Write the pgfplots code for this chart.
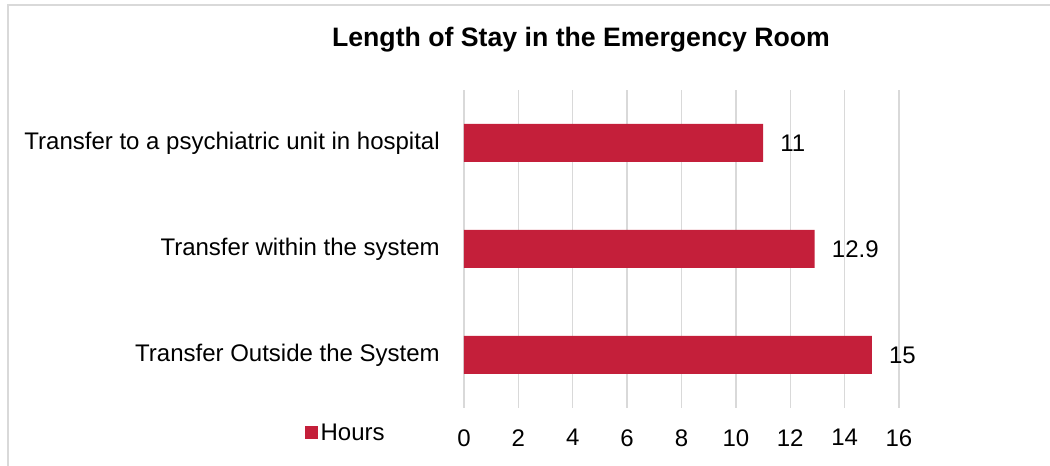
\documentclass[border=0pt]{standalone}
\usepackage{pgfplots}
\pgfplotsset{compat=1.18}
\usepackage{fontspec}
\setmainfont{Liberation Sans}
\definecolor{barred}{RGB}{196,31,58}
\definecolor{gridgray}{RGB}{217,217,217}
\begin{document}
\begin{tikzpicture}[x=0.75pt,y=0.75pt]
\useasboundingbox (0,0) rectangle (1050,466);
\draw[gridgray, line width=1.5pt] (8,0) -- (8,461) -- (1050,461);
\node[font=\fontsize{20}{24}\selectfont\bfseries] at (581,426) {Length of Stay in the Emergency Room};
\begin{axis}[
  at={(348pt,43.5pt)}, anchor=south west, scale only axis,
  width=326.25pt, height=238.5pt,
  xbar, bar width=28.5pt,
  xmin=0, xmax=16, ymin=-0.5, ymax=2.5,
  xtick={0,2,...,16}, ytick={0,1,2},
  yticklabels={Transfer Outside the System, Transfer within the system, Transfer to a psychiatric unit in hospital},
  /pgf/number format/assume math mode=true,
  axis line style={draw=none},
  major tick length=0pt,
  xmajorgrids, grid style={gridgray, line width=1.1pt},
  tick label style={font=\fontsize{18}{21}\selectfont, text=black},
  xticklabel style={inner sep=0pt, anchor=north, yshift=-15.75pt},
  yticklabel style={inner sep=0pt, anchor=east, xshift=-18pt},
  nodes near coords,
  nodes near coords style={font=\fontsize{18}{21}\selectfont, anchor=west, inner sep=0pt, xshift=12.75pt, text=black},
  legend style={at={(-0.3655,-0.0786)}, anchor=west, draw=none, fill=none, inner sep=0pt,
    font=\fontsize{18}{21}\selectfont, cells={anchor=west}},
  legend image code/.code={\fill[barred] (0pt,-4.5pt) rectangle (9.5pt,5pt);},
]
\addplot[fill=barred, draw=none] coordinates {(15,0) (12.9,1) (11,2)};
\addlegendentry{Hours}
\end{axis}
\end{tikzpicture}
\end{document}
